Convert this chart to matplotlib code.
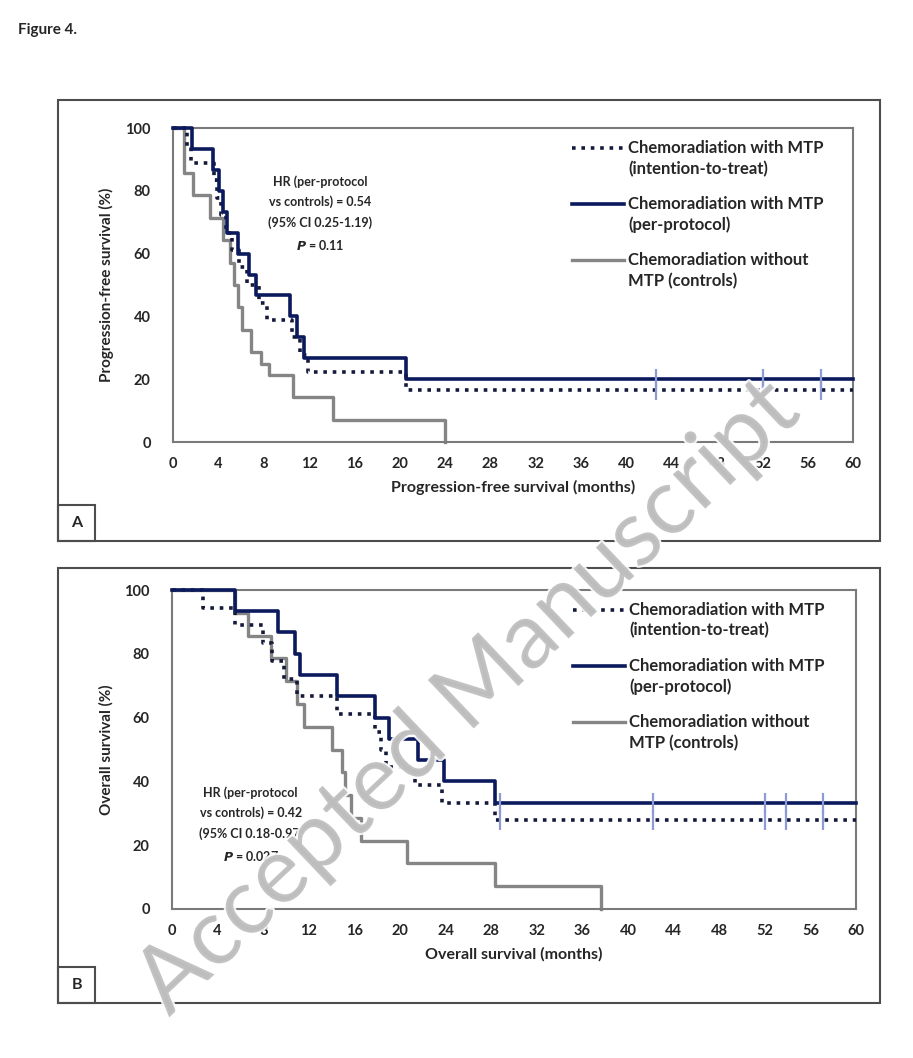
import matplotlib
matplotlib.use('Agg')
import matplotlib.pyplot as plt
import matplotlib.patheffects as pe
from matplotlib.patches import Rectangle

plt.rcParams['font.family'] = ['Lato', 'DejaVu Sans']
plt.rcParams['font.weight'] = 'bold'
plt.rcParams['axes.labelweight'] = 'bold'

# Panel A: progression-free survival (months, %)
pfs_itt_t = [0, 1.2, 1.6, 3.6, 3.9, 4.2, 4.7, 5.2, 5.8, 6.5, 7.6, 8.3, 10.5, 11.2, 11.9, 20.6, 60]
pfs_itt_s = [100, 94.4, 88.9, 83.3, 77.8, 72.2, 66.7, 61.1, 55.6, 50.0, 44.4, 38.9, 33.3, 27.8, 22.2, 16.7, 16.7]
pfs_pp_t = [0, 1.7, 3.5, 4.1, 4.4, 4.8, 5.7, 6.7, 7.3, 10.3, 10.9, 11.6, 20.6, 60]
pfs_pp_s = [100, 93.3, 86.7, 80.0, 73.3, 66.7, 60.0, 53.3, 46.7, 40.0, 33.3, 26.7, 20.0, 20.0]
pfs_ctrl_t = [0, 1.0, 1.8, 3.3, 4.4, 5.0, 5.4, 5.7, 6.1, 6.9, 7.8, 8.5, 10.6, 14.1, 24.0]
pfs_ctrl_s = [100, 85.7, 78.6, 71.4, 64.3, 57.1, 50.0, 42.9, 35.7, 28.6, 25.0, 21.4, 14.3, 7.1, 0]
pfs_censor = [42.6, 52.1, 57.2]

# Panel B: overall survival (months, %)
os_itt_t = [0, 2.7, 5.5, 8.0, 8.8, 9.8, 11.0, 14.5, 17.8, 18.3, 18.8, 21.3, 23.7, 28.3, 60]
os_itt_s = [100, 94.4, 88.9, 83.3, 77.8, 72.2, 66.7, 61.1, 55.6, 50.0, 44.4, 38.9, 33.3, 27.8, 27.8]
os_pp_t = [0, 5.5, 9.3, 10.8, 11.2, 14.5, 17.8, 19.0, 21.6, 23.9, 28.3, 60]
os_pp_s = [100, 93.3, 86.7, 80.0, 73.3, 66.7, 60.0, 53.3, 46.7, 40.0, 33.3, 33.3]
os_ctrl_t = [0, 5.5, 6.7, 8.7, 10.0, 11.0, 11.6, 14.0, 14.9, 15.2, 15.7, 16.6, 20.6, 28.3, 37.6]
os_ctrl_s = [100, 92.9, 85.7, 78.6, 71.4, 64.3, 57.1, 50.0, 42.9, 35.7, 28.6, 21.4, 14.3, 7.1, 0]
os_censor = [28.8, 42.2, 52.0, 53.9, 57.1]

labels = ['Chemoradiation with MTP\n(intention-to-treat)',
          'Chemoradiation with MTP\n(per-protocol)',
          'Chemoradiation without\nMTP (controls)']
hr_a = 'HR (per-protocol\nvs controls) = 0.54\n(95% CI 0.25-1.19)\n$\\bf{\\it{P}}$ = 0.11'
hr_b = 'HR (per-protocol\nvs controls) = 0.42\n(95% CI 0.18-0.97)\n$\\bf{\\it{P}}$ = 0.027'

navy = '#0b1a5c'
grey = '#858585'
tick_col = '#8c9bd6'
txt = '#262626'

W, H = 913, 1058
fig = plt.figure(figsize=(W / 100, H / 100), dpi=100)


def fx(px):
    return px / W


def fy(py):
    return 1 - py / H


def km_panel(ax, itt, pp, ctrl, censor, xlabel, ylabel, hr, hr_pos):
    l1, = ax.step(itt[0], itt[1], where='post', color='#151a3a', lw=2.6,
                  linestyle=(0, (1, 1.6)), clip_on=False, zorder=3)
    l2, = ax.step(pp[0], pp[1], where='post', color=navy, lw=2.6,
                  clip_on=False, zorder=4)
    l3, = ax.step(ctrl[0], ctrl[1], where='post', color=grey, lw=2.4,
                  clip_on=False, zorder=2)
    ax.plot(censor, [pp[1][-1]] * len(censor), '|', color=tick_col,
            ms=14, mew=1.6, zorder=5)
    ax.plot(censor, [itt[1][-1]] * len(censor), '|', color=tick_col,
            ms=14, mew=1.6, zorder=5)
    ax.set_xlim(0, 60)
    ax.set_ylim(0, 100)
    ax.set_xticks(range(0, 61, 4))
    ax.set_yticks(range(0, 101, 20))
    ax.tick_params(length=0, labelsize=10.5, labelcolor=txt)
    ax.tick_params(axis='x', pad=11)
    ax.tick_params(axis='y', pad=16)
    for t in ax.get_xticklabels() + ax.get_yticklabels():
        t.set_fontweight('bold')
    for s in ax.spines.values():
        s.set_color('#7a7a7a')
        s.set_linewidth(1.5)
    ax.set_xlabel(xlabel, fontsize=11.5, color=txt, labelpad=6,
                  fontweight='bold')
    ax.set_ylabel(ylabel, fontsize=11, color=txt, labelpad=8,
                  fontweight='bold')
    ax.text(hr_pos[0], hr_pos[1], hr, ha='center', va='top', fontsize=9,
            color=txt, linespacing=1.75, fontweight='bold')
    leg = ax.legend([l1, l2, l3], labels, loc='upper left',
                    bbox_to_anchor=(0.565, 1.01), frameon=False,
                    prop={'size': 12, 'weight': 'bold'}, handlelength=3.1,
                    handletextpad=0.25, labelspacing=1.15, labelcolor=txt)
    for t in leg.get_texts():
        t.set_linespacing(1.35)
    for ln in leg.get_lines():
        ln.set_ydata([y + 8 for y in ln.get_ydata()])
    return ax


ax_a = fig.add_axes([fx(173), fy(442), fx(853) - fx(173), fy(128) - fy(442)])
km_panel(ax_a, (pfs_itt_t, pfs_itt_s), (pfs_pp_t, pfs_pp_s),
         (pfs_ctrl_t, pfs_ctrl_s), pfs_censor,
         'Progression-free survival (months)', 'Progression-free survival (%)',
         hr_a, (13.0, 85))

ax_b = fig.add_axes([fx(172), fy(909), fx(856) - fx(172), fy(590) - fy(909)])
km_panel(ax_b, (os_itt_t, os_itt_s), (os_pp_t, os_pp_s),
         (os_ctrl_t, os_ctrl_s), os_censor,
         'Overall survival (months)', 'Overall survival (%)',
         hr_b, (6.9, 38.5))

# panel frames and letter boxes
for top, bot, letter in [(100, 541, 'A'), (568, 1003, 'B')]:
    fig.patches.append(Rectangle((fx(58), fy(bot)), fx(880) - fx(58),
                                 fy(top) - fy(bot), transform=fig.transFigure,
                                 fill=False, ec='#4d4d4d', lw=1.5))
    fig.patches.append(Rectangle((fx(58), fy(bot)), fx(95) - fx(58),
                                 fy(bot - 36) - fy(bot), transform=fig.transFigure,
                                 fill=False, ec='#4d4d4d', lw=1.5))
    fig.text(fx(77), fy(bot - 18), letter, ha='center', va='center',
             fontsize=11.5, color=txt, fontweight='bold')

fig.text(fx(18), fy(30), 'Figure 4.', ha='left', va='center',
         fontsize=11, color=txt, fontweight='bold')

fig.text(fx(468), fy(698), 'Accepted Manuscript', ha='center', va='center',
         rotation=43.5, fontsize=67, fontweight='normal', color='#bdbdbd',
         alpha=0.9, zorder=10,
         path_effects=[pe.withStroke(linewidth=3, foreground='white')])

fig.savefig('out.png', dpi=100)
